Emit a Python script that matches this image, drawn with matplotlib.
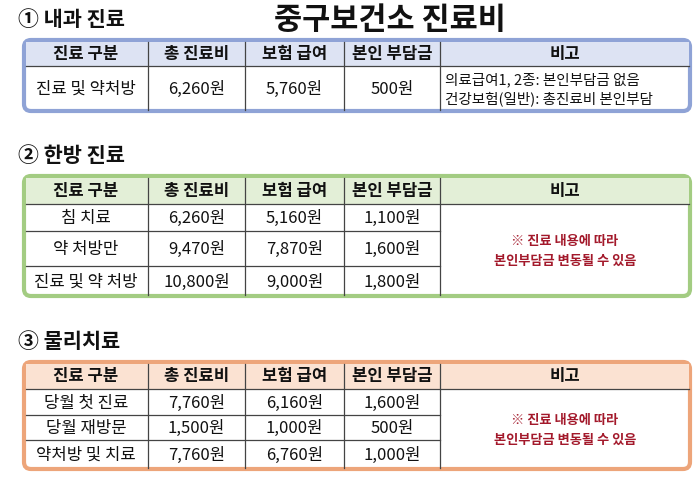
import matplotlib
matplotlib.use("Agg")
import matplotlib.pyplot as plt
from matplotlib.patches import FancyBboxPatch, Rectangle

plt.rcParams['font.family'] = ['Noto Sans CJK KR', 'DejaVu Sans']

title = "중구보건소 진료비"
headers = ["진료 구분", "총 진료비", "보험 급여", "본인 부담금", "비고"]

sec1_title = "① 내과 진료"
sec1_cat = ["진료 및 약처방"]
sec1_total = ["6,260원"]
sec1_ins = ["5,760원"]
sec1_self = ["500원"]
sec1_note = "의료급여1, 2종: 본인부담금 없음\n건강보험(일반): 총진료비 본인부담"

sec2_title = "② 한방 진료"
sec2_cat = ["침 치료", "약 처방만", "진료 및 약 처방"]
sec2_total = ["6,260원", "9,470원", "10,800원"]
sec2_ins = ["5,160원", "7,870원", "9,000원"]
sec2_self = ["1,100원", "1,600원", "1,800원"]
sec2_note = "※ 진료 내용에 따라\n본인부담금 변동될 수 있음"

sec3_title = "③ 물리치료"
sec3_cat = ["당월 첫 진료", "당월 재방문", "약처방 및 치료"]
sec3_total = ["7,760원", "1,500원", "7,760원"]
sec3_ins = ["6,160원", "1,000원", "6,760원"]
sec3_self = ["1,600원", "500원", "1,000원"]
sec3_note = "※ 진료 내용에 따라\n본인부담금 변동될 수 있음"

fig = plt.figure(figsize=(7, 4.89), dpi=100)
ax = fig.add_axes([0, 0, 1, 1])
ax.set_xlim(0, 700); ax.set_ylim(489, 0); ax.axis('off')

cols = [24, 148, 245, 344, 440, 690]

def table(top, row_bounds, cats, tots, ins, selfs, note, border, head, note_color, note_single):
    left, right = cols[0], cols[-1]
    bottom = row_bounds[-1]
    ax.add_patch(FancyBboxPatch((left, top), right - left, bottom - top,
                                boxstyle="round,pad=0,rounding_size=7",
                                fc="white", ec=border, lw=3, zorder=1))
    ax.add_patch(Rectangle((left + 1.5, top + 1.5), right - left - 3, row_bounds[0] - top - 1.5,
                           fc=head, ec="none", zorder=2))
    lc = "#444444"
    ax.plot([left + 1.5, right - 1.5], [row_bounds[0]] * 2, color=lc, lw=0.9, zorder=3)
    for rb in row_bounds[1:-1]:
        ax.plot([left + 1.5, cols[4]], [rb] * 2, color=lc, lw=0.9, zorder=3)
    for c in cols[1:-1]:
        ax.plot([c, c], [top + 1.5, bottom - 1.5], color=lc, lw=0.9, zorder=3)
    for j, h in enumerate(headers):
        ax.text((cols[j] + cols[j + 1]) / 2, (top + row_bounds[0]) / 2, h,
                ha='center', va='center', fontsize=12, fontweight='bold', color="#111111", zorder=4)
    ys = [(row_bounds[i] + row_bounds[i + 1]) / 2 for i in range(len(cats))]
    for i, y in enumerate(ys):
        for j, v in enumerate([cats[i], tots[i], ins[i], selfs[i]]):
            ax.text((cols[j] + cols[j + 1]) / 2, y, v, ha='center', va='center',
                    fontsize=12, fontweight='medium', color="#111111", zorder=4)
    nx = (cols[4] + cols[5]) / 2
    ny = (row_bounds[0] + bottom) / 2
    if note_single:
        ax.text(cols[4] + 5, ny, note, ha='left', va='center', fontsize=10.5,
                color=note_color, linespacing=1.3, zorder=4)
    else:
        ax.text(nx, ny, note, ha='center', va='center', fontsize=9.5, fontweight='bold',
                color=note_color, linespacing=1.6, zorder=4)

ax.text(390, 20, title, ha='center', va='center', fontsize=22, fontweight='bold', color="#111111")
ax.text(18, 20, sec1_title, ha='left', va='center', fontsize=15, fontweight='bold', color="#111111")
table(41, [67, 112], sec1_cat, sec1_total, sec1_ins, sec1_self, sec1_note,
      "#8fa3d6", "#dde3f3", "#111111", True)

ax.text(18, 156, sec2_title, ha='left', va='center', fontsize=15, fontweight='bold', color="#111111")
table(177, [205, 232, 267, 297], sec2_cat, sec2_total, sec2_ins, sec2_self, sec2_note,
      "#a3cc82", "#e3efd7", "#a3192b", False)

ax.text(18, 341, sec3_title, ha='left', va='center', fontsize=15, fontweight='bold', color="#111111")
table(363, [390, 416, 441, 470], sec3_cat, sec3_total, sec3_ins, sec3_self, sec3_note,
      "#eda57a", "#fbe2d2", "#a3192b", False)

fig.savefig("out.png", dpi=100, facecolor="white")
